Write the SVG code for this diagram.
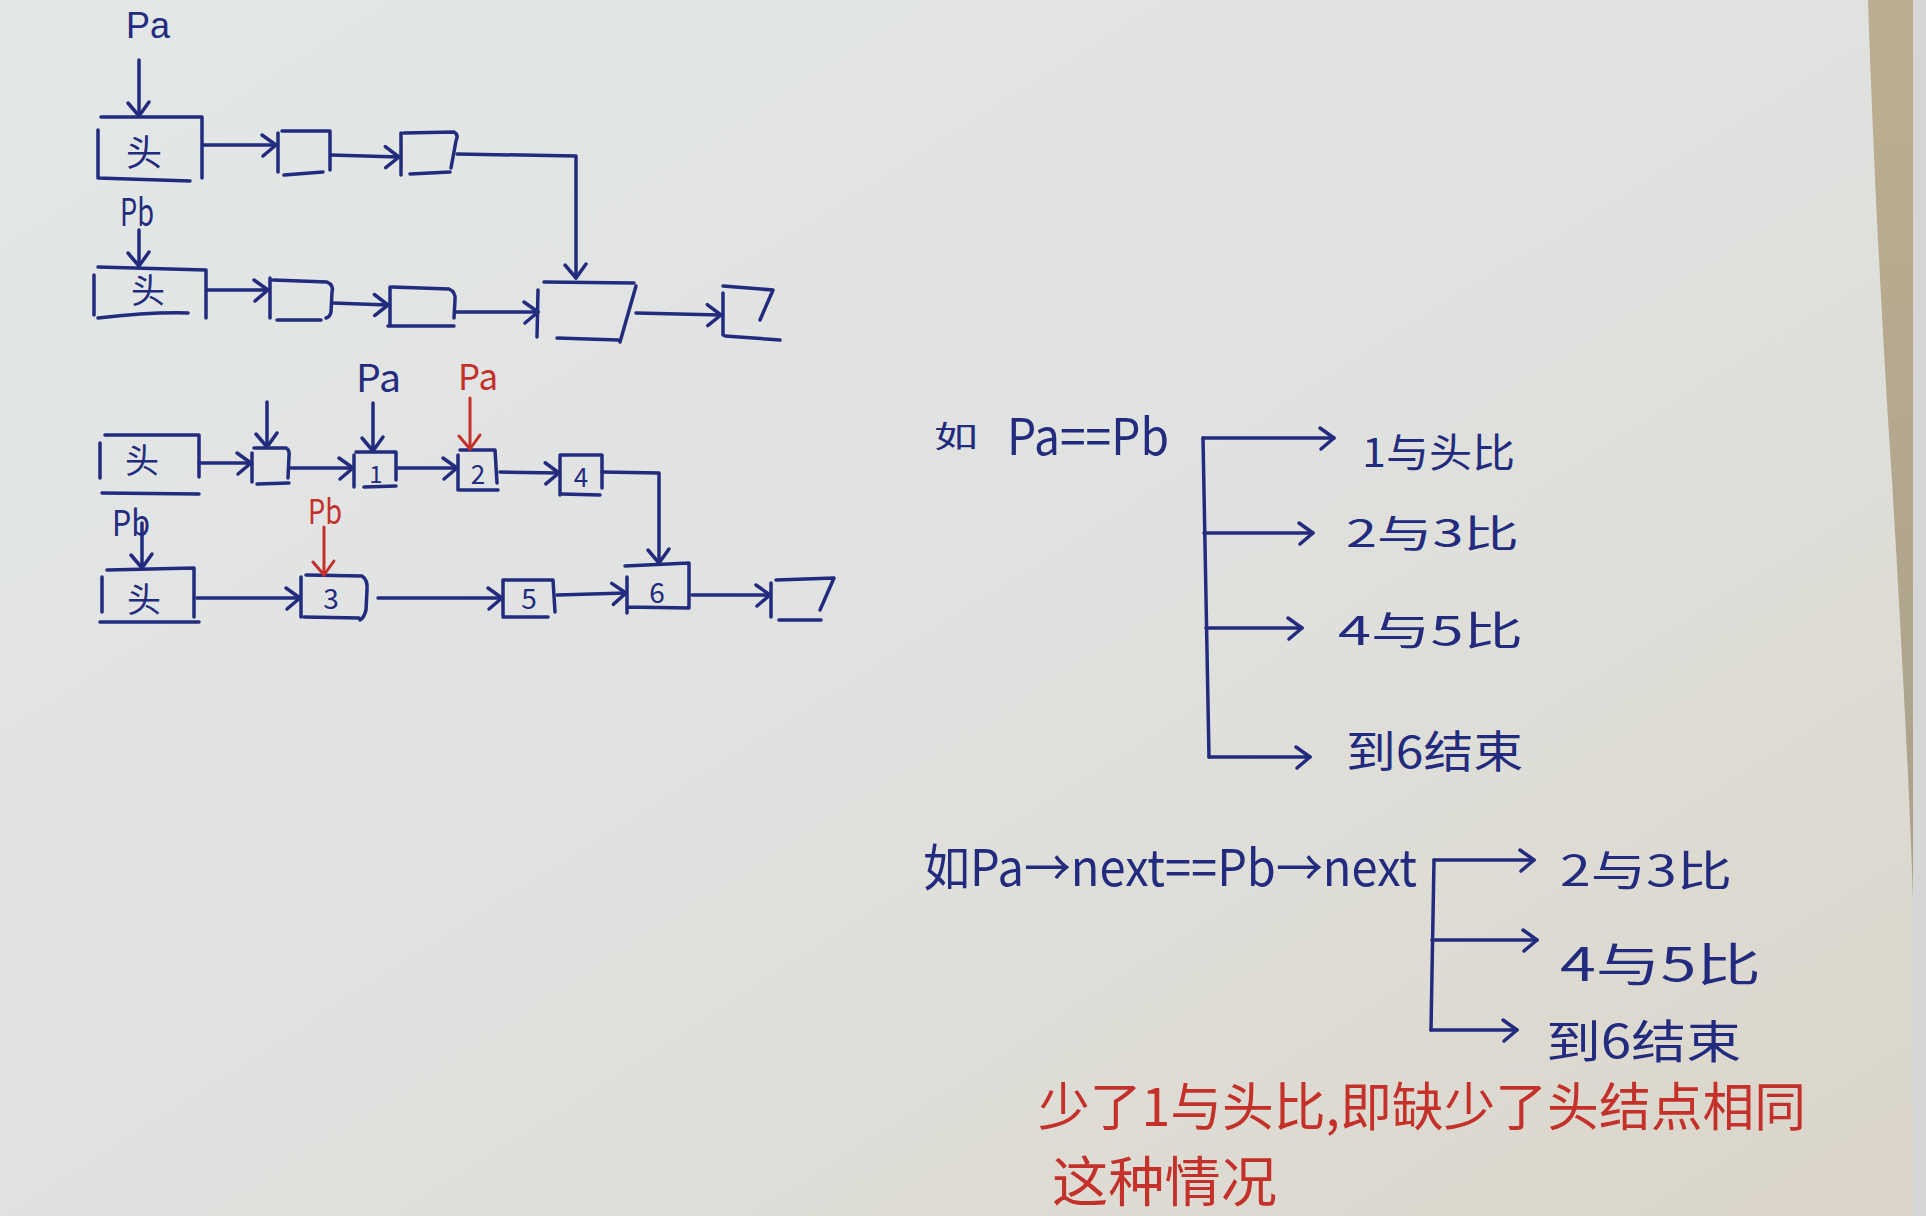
<svg xmlns="http://www.w3.org/2000/svg" width="1926" height="1216" viewBox="0 0 1926 1216">
<defs>
<linearGradient id="paper" x1="0" y1="0" x2="1" y2="1">
<stop offset="0" stop-color="#e3e7e7"/>
<stop offset="0.5" stop-color="#e0e2e0"/>
<stop offset="1" stop-color="#dbd5c9"/>
</linearGradient>
<linearGradient id="wood" x1="0" y1="0" x2="0" y2="1">
<stop offset="0" stop-color="#bcae90"/>
<stop offset="1" stop-color="#aba18c"/>
</linearGradient>
<marker id="ah" viewBox="-20 -15 25 30" refX="0" refY="0" markerWidth="25" markerHeight="30" markerUnits="userSpaceOnUse" orient="auto">
<path d="M-14,-10 L0,0 L-13,11" fill="none" stroke="#222b7d" stroke-width="3.5" stroke-linecap="round" stroke-linejoin="round"/>
</marker>
<marker id="ahr" viewBox="-20 -15 25 30" refX="0" refY="0" markerWidth="25" markerHeight="30" markerUnits="userSpaceOnUse" orient="auto">
<path d="M-14,-10 L0,0 L-13,11" fill="none" stroke="#c4302a" stroke-width="3" stroke-linecap="round" stroke-linejoin="round"/>
</marker>
<style>
.ink{fill:none;stroke:#222b7d;stroke-width:3.5;stroke-linecap:round;stroke-linejoin:round}
.inkr{fill:none;stroke:#c4302a;stroke-width:3;stroke-linecap:round;stroke-linejoin:round}
.arr{marker-end:url(#ah)}
.arrr{marker-end:url(#ahr)}
.t{font-family:"Noto Sans CJK SC","Liberation Sans",sans-serif;fill:#222b7d}
.tr{font-family:"Noto Sans CJK SC","Liberation Sans",sans-serif;fill:#c4302a}
.lat{font-family:"Liberation Sans",sans-serif}
</style>
</defs>

<!-- background paper and table edge -->
<rect x="0" y="0" width="1926" height="1216" fill="url(#paper)"/>
<path d="M1868,0 C1872,120 1880,300 1892,480 C1902,650 1910,800 1913,900 L1913,0 Z" fill="url(#wood)"/>
<rect x="1913" y="0" width="13" height="1216" fill="#d6d6d6"/>

<!-- ===== Top diagram: nodes ===== -->
<g id="top-a-head">
<path class="ink" d="M101,117 L202,117 L202,178 M98,130 L98,177 M98,178 L190,181"/>
<text class="t" x="144" y="166" font-size="36" text-anchor="middle">头</text>
</g>
<g id="top-a-1"><path class="ink" d="M282,131 L330,131 L330,170 M278,133 L278,172 M284,175 L323,172"/></g>
<g id="top-a-2"><path class="ink" d="M404,133 L454,132 Q459,135 456,141 L451,168 M401,133 L401,175 M410,174 L450,172"/></g>
<g id="top-b-head">
<path class="ink" d="M98,267 L206,270 L206,318 M94,275 L94,315 M98,318 Q150,312 188,313"/>
<text class="t" x="148" y="303" font-size="34" text-anchor="middle">头</text>
</g>
<g id="top-b-1"><path class="ink" d="M270,278 L270,318 M273,280 L327,282 Q334,285 332,292 L331,312 Q330,317 326,318 M277,320 L321,320"/></g>
<g id="top-b-2"><path class="ink" d="M390,287 L390,325 M392,287 L449,289 Q456,292 455,300 L454,318 M388,326 L454,326"/></g>
<g id="top-shared"><path class="ink" d="M544,282 L634,283 M538,290 L537,337 M636,286 L620,342 M557,338 L618,340"/></g>
<g id="top-last"><path class="ink" d="M723,293 L723,335 M723,286 L773,290 L760,320 M725,336 L780,340"/></g>
<g id="top-pa"><text class="t lat" x="126" y="38" font-size="36" textLength="44" lengthAdjust="spacingAndGlyphs">Pa</text></g>
<g id="top-pb"><text class="t" x="120" y="226" font-size="38" textLength="34" lengthAdjust="spacingAndGlyphs">Pb</text></g>

<!-- ===== Bottom-left diagram: nodes ===== -->
<g id="bot-a-head">
<path class="ink" d="M105,435 L199,435 L199,477 M100,443 L100,478 M102,493 L199,494"/>
<text class="t" x="142" y="473" font-size="34" text-anchor="middle">头</text>
</g>
<g id="bot-a-0"><path class="ink" d="M252,453 L252,482 M254,448 L286,448 Q290,450 289,456 L288,478 M257,484 L289,483"/></g>
<g id="bot-a-1">
<path class="ink" d="M354,455 L354,487 M356,452 L396,452 L396,480 M364,487 L396,486"/>
<text class="t" x="376" y="483" font-size="24" text-anchor="middle">1</text>
</g>
<g id="bot-a-2">
<path class="ink" d="M458,455 L458,490 M460,450 L495,450 L497,483 M460,490 L498,490"/>
<text class="t" x="478" y="484" font-size="26" text-anchor="middle">2</text>
</g>
<g id="bot-a-4">
<path class="ink" d="M560,457 L560,495 M560,455 L602,455 L602,488 M562,494 L600,495"/>
<text class="t" x="581" y="487" font-size="26" text-anchor="middle">4</text>
</g>
<g id="bot-b-head">
<path class="ink" d="M107,570 L194,568 L194,617 M102,577 L102,612 M100,622 L199,622"/>
<text class="t" x="144" y="612" font-size="34" text-anchor="middle">头</text>
</g>
<g id="bot-b-3">
<path class="ink" d="M301,577 L301,617 M306,575 L362,576 Q368,580 367,590 L366,610 Q364,618 360,620 M304,617 L359,618"/>
<text class="t" x="331" y="609" font-size="28" text-anchor="middle">3</text>
</g>
<g id="bot-b-5">
<path class="ink" d="M503,580 L503,615 M503,580 L553,580 L555,612 M503,617 L548,617"/>
<text class="t" x="529" y="609" font-size="28" text-anchor="middle">5</text>
</g>
<g id="bot-shared-6">
<path class="ink" d="M625,566 L689,563 L689,607 M627,577 L627,613 M627,607 L689,608"/>
<text class="t" x="657" y="603" font-size="28" text-anchor="middle">6</text>
</g>
<g id="bot-last"><path class="ink" d="M771,583 L771,617 M776,580 L834,578 L820,610 M779,620 L821,620"/></g>
<g id="bot-pa-blue"><text class="t" x="356" y="392" font-size="38" textLength="45" lengthAdjust="spacingAndGlyphs">Pa</text></g>
<g id="bot-pa-red"><text class="tr" x="458" y="390" font-size="36" textLength="40" lengthAdjust="spacingAndGlyphs">Pa</text></g>
<g id="bot-pb-blue"><text class="t" x="112" y="536" font-size="36" textLength="38" lengthAdjust="spacingAndGlyphs">Pb</text></g>
<g id="bot-pb-red"><text class="tr" x="308" y="524" font-size="34" textLength="34" lengthAdjust="spacingAndGlyphs">Pb</text></g>

<!-- ===== Right side notes ===== -->
<g id="case1">
<text class="t" x="934" y="447" font-size="30" textLength="44" lengthAdjust="spacingAndGlyphs">如</text>
<text class="t" x="1007" y="455" font-size="50" textLength="162" lengthAdjust="spacingAndGlyphs">Pa==Pb</text>
</g>
<g id="case1-r1"><text class="t" x="1362" y="467" font-size="40" textLength="153" lengthAdjust="spacingAndGlyphs">1与头比</text></g>
<g id="case1-r2"><text class="t" x="1346" y="547" font-size="38" textLength="173" lengthAdjust="spacingAndGlyphs">2与3比</text></g>
<g id="case1-r3"><text class="t" x="1338" y="645" font-size="40" textLength="185" lengthAdjust="spacingAndGlyphs">4与5比</text></g>
<g id="case1-r4"><text class="t" x="1346" y="768" font-size="44" textLength="177" lengthAdjust="spacingAndGlyphs">到6结束</text></g>

<g id="case2">
<text class="t" x="923" y="886" font-size="50" textLength="494" lengthAdjust="spacingAndGlyphs">如Pa→next==Pb→next</text>
</g>
<g id="case2-r1"><text class="t" x="1560" y="886" font-size="42" textLength="172" lengthAdjust="spacingAndGlyphs">2与3比</text></g>
<g id="case2-r2"><text class="t" x="1560" y="981" font-size="46" textLength="201" lengthAdjust="spacingAndGlyphs">4与5比</text></g>
<g id="case2-r3"><text class="t" x="1546" y="1058" font-size="46" textLength="195" lengthAdjust="spacingAndGlyphs">到6结束</text></g>

<g id="note">
<text class="tr" x="1038" y="1126" font-size="52" textLength="768" lengthAdjust="spacingAndGlyphs">少了1与头比,即缺少了头结点相同</text>
<text class="tr" x="1052" y="1202" font-size="54" textLength="225" lengthAdjust="spacingAndGlyphs">这种情况</text>
</g>

<!-- ===== Connectors ===== -->
<g id="connectors">
<!-- top diagram -->
<path class="ink arr" d="M139,60 L139,116"/>
<path class="ink arr" d="M139,230 L139,266"/>
<path class="ink arr" d="M203,145 L276,145"/>
<path class="ink arr" d="M331,155 L399,157"/>
<path class="ink arr" d="M457,154 L576,156 L576,278"/>
<path class="ink arr" d="M207,290 L268,290"/>
<path class="ink arr" d="M333,303 L388,305"/>
<path class="ink arr" d="M456,312 L538,312"/>
<path class="ink arr" d="M636,313 L721,315"/>
<!-- bottom-left diagram -->
<path class="ink arr" d="M267,402 L267,447"/>
<path class="ink arr" d="M373,403 L373,451"/>
<path class="inkr arrr" d="M470,398 L470,449"/>
<path class="ink arr" d="M142,523 L142,568"/>
<path class="inkr arrr" d="M324,527 L324,575"/>
<path class="ink arr" d="M199,463 L251,463"/>
<path class="ink arr" d="M291,468 L353,468"/>
<path class="ink arr" d="M398,468 L457,468"/>
<path class="ink arr" d="M500,472 L559,473"/>
<path class="ink arr" d="M602,472 L659,473 L659,563"/>
<path class="ink arr" d="M197,598 L300,598"/>
<path class="ink arr" d="M378,598 L502,598"/>
<path class="ink arr" d="M557,595 L626,593"/>
<path class="ink arr" d="M692,595 L770,595"/>
<!-- case 1 bracket -->
<path class="ink arr" d="M1203,438 L1334,438"/>
<path class="ink" d="M1203,438 L1209,757"/>
<path class="ink arr" d="M1204,533 L1313,533"/>
<path class="ink arr" d="M1206,628 L1302,628"/>
<path class="ink arr" d="M1209,757 L1310,757"/>
<!-- case 2 bracket -->
<path class="ink arr" d="M1434,860 L1534,860"/>
<path class="ink" d="M1434,860 L1431,1030"/>
<path class="ink arr" d="M1432,940 L1537,940"/>
<path class="ink arr" d="M1431,1030 L1517,1030"/>
</g>
</svg>
